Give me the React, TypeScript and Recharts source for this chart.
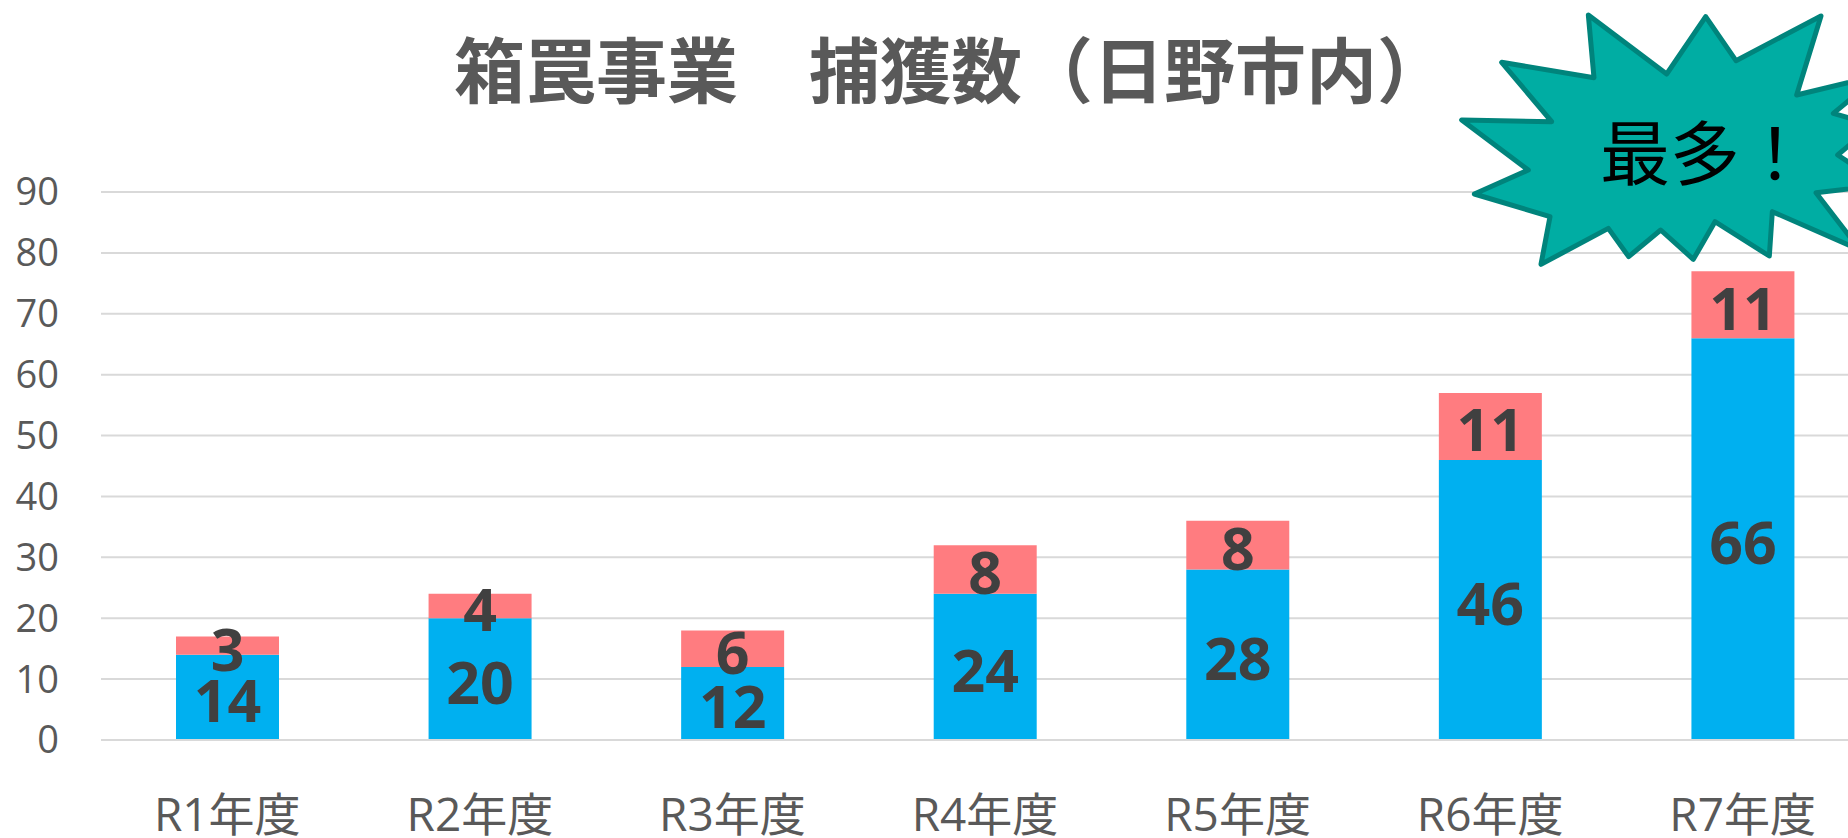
import React from 'react';
import { BarChart, Bar, XAxis, YAxis, CartesianGrid, LabelList } from 'recharts';

const categories = ['R1年度', 'R2年度', 'R3年度', 'R4年度', 'R5年度', 'R6年度', 'R7年度'];
const lowerValues = [14, 20, 12, 24, 28, 46, 66];
const upperValues = [3, 4, 6, 8, 8, 11, 11];
const yTicks = [0, 10, 20, 30, 40, 50, 60, 70, 80, 90];

const burstPoints =
  '445,45 680,222 797,50 888,182 1143,48 1070,285 1320,225 1180,340 1300,375 1193,465 1330,555 1128,578 1260,750 997,635 988,768 825,665 760,778 662,690 566,770 505,685 303,793 330,650 103,582 265,510 65,360 335,365 185,187 462,233';

const data = categories.map((name, i) => ({ name, lower: lowerValues[i], upper: upperValues[i] }));

const latin = '"Open Sans", "Noto Sans CJK JP", sans-serif';
const labelStyle = {
  fontFamily: latin,
  fontSize: 59,
  fontWeight: 700,
  fill: '#404040',
  transform: 'translateY(4px)',
};

const App: React.FC = () => {
  return (
    <div style={{ position: 'absolute', left: 0, top: 0, width: 1848, height: 838, overflow: 'hidden', background: '#fff' }}>
      <BarChart
        width={1900}
        height={838}
        data={data}
        barSize={103}
        margin={{ top: 192, right: 31, bottom: 0, left: 0 }}
      >
        <CartesianGrid vertical={false} stroke="#D9D9D9" strokeWidth={2} />
        <XAxis
          dataKey="name"
          height={98}
          tickLine={false}
          axisLine={{ stroke: '#D9D9D9', strokeWidth: 2 }}
          tickMargin={52}
          interval={0}
          tick={{ fontFamily: latin, fontSize: 46, fontWeight: 400, fill: '#595959' }}
        />
        <YAxis
          width={101}
          domain={[0, 90]}
          ticks={yTicks}
          tickLine={false}
          axisLine={false}
          tickMargin={36}
          interval={0}
          tick={{ fontFamily: latin, fontSize: 38, fontWeight: 400, fill: '#595959' }}
        />
        <Bar dataKey="lower" stackId="a" fill="#00B0F0" isAnimationActive={false}>
          <LabelList dataKey="lower" position="center" style={labelStyle} />
        </Bar>
        <Bar dataKey="upper" stackId="a" fill="#FF7C80" isAnimationActive={false}>
          <LabelList dataKey="upper" position="center" style={labelStyle} />
        </Bar>
      </BarChart>

      <div
        style={{
          position: 'absolute',
          left: 0,
          top: 16,
          width: 1902,
          textAlign: 'center',
          fontFamily: '"Noto Sans CJK JP", sans-serif',
          fontWeight: 700,
          fontSize: 71,
          lineHeight: '100px',
          color: '#595959',
          whiteSpace: 'pre',
        }}
      >
        箱罠事業　捕獲数（日野市内）
      </div>

      <svg
        viewBox="0 0 1224 870"
        width={408}
        height={290}
        style={{ position: 'absolute', left: 1440, top: 0, overflow: 'visible' }}
      >
        <polygon points={burstPoints} fill="#00ADA3" stroke="#00847C" strokeWidth={15} strokeLinejoin="round" />
        <text
          x={480}
          y={540}
          fontFamily='"Noto Sans CJK JP", sans-serif'
          fontSize={210}
          fill="#000"
        >
          最多！
        </text>
      </svg>
    </div>
  );
};

export default App;
